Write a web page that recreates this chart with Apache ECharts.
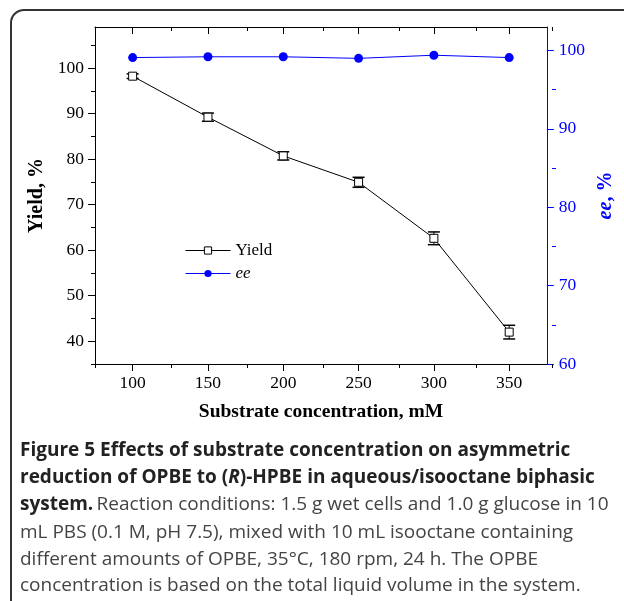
<!DOCTYPE html>
<html>
<head>
<meta charset="utf-8">
<script src="https://cdn.jsdelivr.net/npm/echarts@6/dist/echarts.min.js"></script>
<style>
  html, body { margin: 0; padding: 0; background: #fff; }
  #chart { width: 624px; height: 601px; }
</style>
</head>
<body>
<div id="chart"></div>
<script>
// substrate concentration, mM
var concentrations = [100, 150, 200, 250, 300, 350];
// yield, % and its error
var yieldValues = [98.2, 89.2, 80.7, 74.9, 62.6, 42.0];
var yieldErrors = [0.5, 0.9, 0.9, 1.1, 1.4, 1.5];
// ee, %
var eeValues = [99.1, 99.2, 99.2, 99.0, 99.4, 99.1];

// tick positions
var xMajor = [100, 150, 200, 250, 300, 350];
var xMinor = [75, 125, 175, 225, 275, 325, 375];
var yLeftMajor = [40, 50, 60, 70, 80, 90, 100];
var yLeftMinor = [35, 45, 55, 65, 75, 85, 95, 105];
var yRightMajor = [60, 70, 80, 90, 100];
var yRightMinor = [65, 75, 85, 95];

var SERIF = "'Liberation Serif', 'Times New Roman', serif";
var SANS = "'Open Sans', sans-serif";
var BLUE = "#0000ff";

var chart = echarts.init(document.getElementById("chart"));

function pairs(xs, ys) {
  var out = [];
  for (var i = 0; i < xs.length; i++) out.push([xs[i], ys[i]]);
  return out;
}

var errData = [];
for (var i = 0; i < concentrations.length; i++) {
  errData.push([concentrations[i], yieldValues[i] - yieldErrors[i], yieldValues[i] + yieldErrors[i]]);
}

//误差线
function renderErr(params, api) {
  var lo = api.coord([api.value(0), api.value(1)]);
  var hi = api.coord([api.value(0), api.value(2)]);
  var half = 6;
  var st = { stroke: "#000", lineWidth: 1 };
  var cap = { stroke: "#000", lineWidth: 1.5 };
  return {
    type: "group",
    children: [
      { type: "line", shape: { x1: lo[0], y1: lo[1], x2: hi[0], y2: hi[1] }, style: st },
      { type: "line", shape: { x1: lo[0] - half, y1: lo[1], x2: lo[0] + half, y2: lo[1] }, style: cap },
      { type: "line", shape: { x1: hi[0] - half, y1: hi[1], x2: hi[0] + half, y2: hi[1] }, style: cap }
    ]
  };
}

function tickAxis(pos, gridIndex, min, max, ticks, len, inside, color, extra) {
  var ax = {
    type: "value",
    gridIndex: gridIndex,
    position: pos,
    min: min,
    max: max,
    splitLine: { show: false },
    axisLine: { show: true, onZero: false, lineStyle: { color: color, width: 1 } },
    axisTick: { show: true, inside: inside, length: len, customValues: ticks, lineStyle: { color: color, width: 1 } },
    axisLabel: { show: false }
  };
  if (extra) for (var k in extra) ax[k] = extra[k];
  return ax;
}

var captionLines = [
  "{b|Figure 5 Effects of substrate concentration on asymmetric}",
  "{b|reduction of OPBE to (}{bi|R}{b|)-HPBE in aqueous/isooctane biphasic}",
  "{b|system.} {r|Reaction conditions: 1.5 g wet cells and 1.0 g glucose in 10}",
  "{r|mL PBS (0.1 M, pH 7.5), mixed with 10 mL isooctane containing}",
  "{r|different amounts of OPBE, 35°C, 180 rpm, 24 h. The OPBE}",
  "{r|concentration is based on the total liquid volume in the system.}"
];
var captionTops = [441, 468, 495, 523, 550, 576];
var captionRich = {
  b: { fontFamily: SANS, fontSize: 19, fontWeight: "bold", fill: "#222" },
  bi: { fontFamily: SANS, fontSize: 19, fontWeight: "bold", fontStyle: "italic", fill: "#222" },
  r: { fontFamily: SANS, fontSize: 19, fill: "#444" }
};
var graphics = [
  {
    type: "rect",
    shape: { x: 11, y: 10, width: 700, height: 700, r: [13, 0, 0, 0] },
    style: { fill: "none", stroke: "#333", lineWidth: 2 }
  }
];
for (var j = 0; j < captionLines.length; j++) {
  graphics.push({
    type: "text",
    left: 20,
    top: captionTops[j],
    style: { text: captionLines[j], rich: captionRich }
  });
}

var option = {
  animation: false,
  backgroundColor: "#fff",
  grid: [
    { left: 95, top: 27, right: 72, bottom: 237 },
    { left: 95, top: 27, right: 72, bottom: 237 }
  ],
  legend: {
    orient: "vertical",
    left: 185,
    top: 242,
    padding: 0,
    itemWidth: 45,
    itemHeight: 9,
    itemGap: 6,
    lineStyle: { width: 1 },
    itemStyle: { borderWidth: 1 },
    textStyle: {
      fontFamily: SERIF,
      fontSize: 17,
      color: "#000",
      rich: { i: { fontFamily: SERIF, fontSize: 17, fontStyle: "italic", color: "#000" } }
    },
    formatter: function (name) {
      return name === "ee" ? "{i|ee}" : name;
    },
    data: ["Yield", "ee"]
  },
  xAxis: [
    tickAxis("bottom", 0, 75, 375, xMajor, 7, false, "#000", {
      axisLabel: { show: true, customValues: xMajor, margin: 10, fontFamily: SERIF, fontSize: 17.5, color: "#000" },
      name: "Substrate concentration, mM",
      nameLocation: "middle",
      nameGap: 38,
      nameTextStyle: { fontFamily: SERIF, fontSize: 19.5, fontWeight: "bold", color: "#000" }
    }),
    tickAxis("top", 0, 75, 375, xMajor, 7, true, "#000"),
    tickAxis("bottom", 1, 75, 375, xMinor, 4, false, "#000", { axisLine: { show: false } }),
    tickAxis("top", 1, 75, 375, xMinor, 4, true, "#000", { axisLine: { show: false } })
  ],
  yAxis: [
    tickAxis("left", 0, 35, 109, yLeftMajor, 7, false, "#000", {
      axisLabel: { show: true, customValues: yLeftMajor, margin: 11, fontFamily: SERIF, fontSize: 17.5, color: "#000" },
      name: "Yield, %",
      nameLocation: "middle",
      nameRotate: 90,
      nameGap: 43,
      nameTextStyle: { fontFamily: SERIF, fontSize: 20, fontWeight: "bold", color: "#000" }
    }),
    tickAxis("right", 0, 60, 103, yRightMajor, 7, false, BLUE, {
      axisLabel: { show: true, customValues: yRightMajor, margin: 12, fontFamily: SERIF, fontSize: 17.5, color: BLUE },
      name: "{i|ee}{b|, %}",
      nameLocation: "middle",
      nameRotate: 90,
      nameGap: 42,
      nameTextStyle: {
        rich: {
          i: { fontFamily: SERIF, fontSize: 20, fontWeight: "bold", fontStyle: "italic", color: BLUE },
          b: { fontFamily: SERIF, fontSize: 20, fontWeight: "bold", color: BLUE }
        }
      }
    }),
    tickAxis("left", 1, 35, 109, yLeftMinor, 4, false, "#000", { axisLine: { show: false } }),
    tickAxis("right", 1, 60, 103, yRightMinor, 4, false, BLUE, { axisLine: { show: false } })
  ],
  graphic: graphics,
  series: [
    {
      name: "errors",
      type: "custom",
      xAxisIndex: 0,
      yAxisIndex: 0,
      renderItem: renderErr,
      data: errData,
      z: 1
    },
    {
      name: "Yield",
      type: "line",
      xAxisIndex: 0,
      yAxisIndex: 0,
      data: pairs(concentrations, yieldValues),
      symbol: "rect",
      symbolSize: 8,
      lineStyle: { color: "#000", width: 1 },
      itemStyle: { color: "#fff", borderColor: "#000", borderWidth: 1 },
      z: 3
    },
    {
      name: "ee",
      type: "line",
      xAxisIndex: 0,
      yAxisIndex: 1,
      data: pairs(concentrations, eeValues),
      symbol: "circle",
      symbolSize: 9,
      lineStyle: { color: BLUE, width: 1 },
      itemStyle: { color: BLUE },
      z: 3
    }
  ]
};
chart.setOption(option);
</script>
</body>
</html>
